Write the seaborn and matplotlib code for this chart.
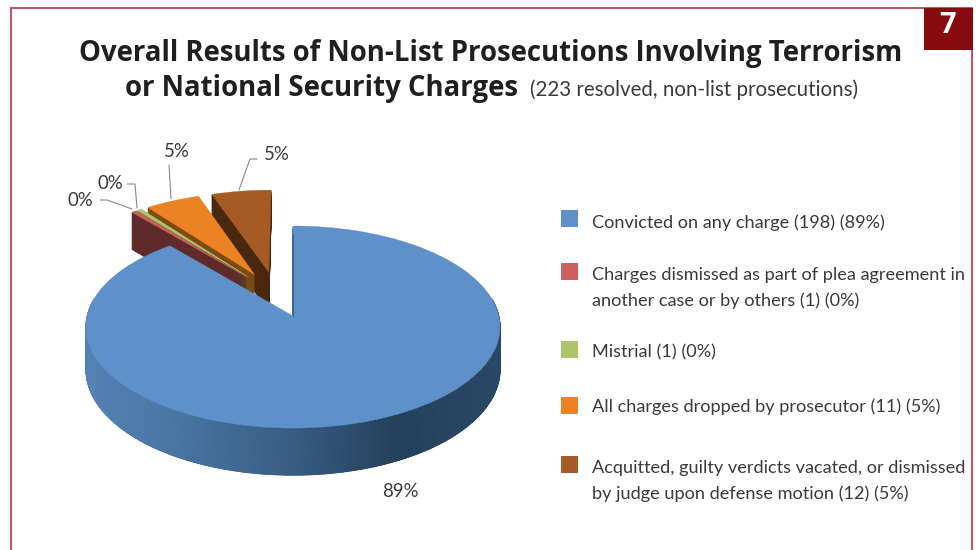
"""Overall results of non-list prosecutions, as a tilted exploded pie."""

import matplotlib

matplotlib.use("Agg")
import matplotlib.pyplot as plt
import numpy as np
import seaborn as sns
from matplotlib.patches import Rectangle
from matplotlib.transforms import Transform

categories = [
    "Convicted on any charge (198) (89%)",
    "Charges dismissed as part of plea agreement in\nanother case or by others (1) (0%)",
    "Mistrial (1) (0%)",
    "All charges dropped by prosecutor (11) (5%)",
    "Acquitted, guilty verdicts vacated, or dismissed\nby judge upon defense motion (12) (5%)",
]
counts = [198, 1, 1, 11, 12]
percent_labels = ["89%", "0%", "0%", "5%", "5%"]

top_colors = ["#5E91C9", "#CD5F5E", "#ABC56B", "#EB8224", "#A65A24"]
wall_colors = ["#385C82", "#5F2A2A", "#56682F", "#7D4A13", "#4A270F"]
rim_colors = ["#5582B5", "#47739F", "#385C82", "#24405C", "#294766"]

# layout in image pixels
swatch_tops = [210, 263, 341, 397, 456]
legend_baselines = [228, 280, 357, 412, 473]
label_spots = [(382, 497), (68, 206), (98, 189), (164, 157), (264, 160)]
leaders = [
    None,
    [(100, 200), (107, 200), (132, 209)],
    [(127, 184), (135, 184), (137, 208)],
    [(169, 165), (171, 199)],
    [(257, 159), (250, 159), (239, 190)],
]


class Tilt(Transform):
    """Project the flat pie onto the picture, thickness goes downwards."""

    input_dims = 2
    output_dims = 2
    is_affine = False
    has_inverse = False

    def __init__(self, thickness=0.0):
        super().__init__()
        self.thickness = thickness

    def transform_non_affine(self, values):
        values = np.asarray(values)
        w = 1 + 0.109 * values[:, 1]
        px = 293 + 205.8 * values[:, 0] / w
        py = 316 - (99.8 * values[:, 1] - 42 * self.thickness) / w
        return np.column_stack((px, py))


sns.set_theme(style="white")
plt.rcParams["font.family"] = ["Lato", "DejaVu Sans"]

fig = plt.figure(figsize=(9.79, 5.5), dpi=100)
ax = fig.add_axes([0, 0, 1, 1])


def draw_pie(colors, thickness, base_z):
    wedges, _ = ax.pie(
        counts,
        colors=colors,
        startangle=90,
        counterclock=False,
        radius=1,
        explode=[0.24] * len(counts),
        center=(-0.083, 0.225),
        wedgeprops={"linewidth": 0.3, "edgecolor": "none"},
    )
    for i, wedge in enumerate(wedges):
        wedge.set_transform(Tilt(thickness) + ax.transData)
        wedge.set_zorder((len(counts) - i) * 10 + base_z)
        wedge.set_edgecolor(colors[i])


for thickness in np.linspace(1, 0.02, 60):
    draw_pie(wall_colors, thickness, 0)
draw_pie(top_colors, 0.0, 2)

# shaded outer wall of the big slice
theta = np.radians(np.linspace(170, 370, 200))
rim = np.column_stack((np.cos(theta), np.sin(theta)))
upper = Tilt(0.0).transform(rim)
lower = Tilt(1.0).transform(rim)
mesh_x = np.vstack((upper[:, 0], lower[:, 0]))
mesh_y = np.vstack((upper[:, 1], lower[:, 1]))
ax.pcolormesh(
    mesh_x,
    mesh_y,
    mesh_x,
    shading="gouraud",
    cmap=sns.blend_palette(rim_colors, as_cmap=True),
    vmin=87,
    vmax=501,
    zorder=51,
)

# thin dark edge on the right side of the gap
gap_edge = Tilt(0.0).transform(np.array([[0.0, 0.0], [0.0, 0.9]]))
ax.plot(gap_edge[:, 0], gap_edge[:, 1], color="#3F5F85", lw=0.7, zorder=53)

ax.set_aspect("auto")
ax.set_xlim(0, 979)
ax.set_ylim(550, 0)
ax.set_axis_off()

for label, spot, leader in zip(percent_labels, label_spots, leaders):
    ax.text(spot[0], spot[1], label, fontsize=13.4, color="#3a3a3a", va="baseline", zorder=80)
    if leader:
        xs, ys = zip(*leader)
        ax.plot(xs, ys, color="#8a8a8a", lw=0.8, zorder=80)

for name, color, top, baseline in zip(categories, top_colors, swatch_tops, legend_baselines):
    ax.add_patch(Rectangle((561, top), 17, 17, facecolor=color, edgecolor="none", zorder=80))
    for n, line in enumerate(name.split("\n")):
        ax.text(592, baseline + n * 26, line, fontsize=13.1, color="#3a3a3a", va="baseline", zorder=80)

# title
ax.text(79, 61, "Overall Results of Non-List Prosecutions Involving Terrorism",
        fontsize=19.8, fontweight="bold", color="#1f1f1f", va="baseline", family="Open Sans", zorder=80)
ax.text(125, 96, "or National Security Charges",
        fontsize=19.8, fontweight="bold", color="#1f1f1f", va="baseline", family="Open Sans", zorder=80)
ax.text(530, 96, "(223 resolved, non-list prosecutions)",
        fontsize=14.8, color="#3a3a3a", va="baseline", zorder=80)

# frame and figure number
ax.plot([11, 11, 972, 972], [550, 8, 8, 550], color="#B85A5F", lw=1.5, zorder=70, solid_joinstyle="miter")
ax.add_patch(Rectangle((924, 8), 49, 42, facecolor="#870C0F", edgecolor="none", zorder=75))
ax.text(948, 25.5, "7", fontsize=21, fontweight="bold", color="white", ha="center", va="center",
        family="Open Sans", zorder=80)

fig.savefig("out.png", dpi=100)
